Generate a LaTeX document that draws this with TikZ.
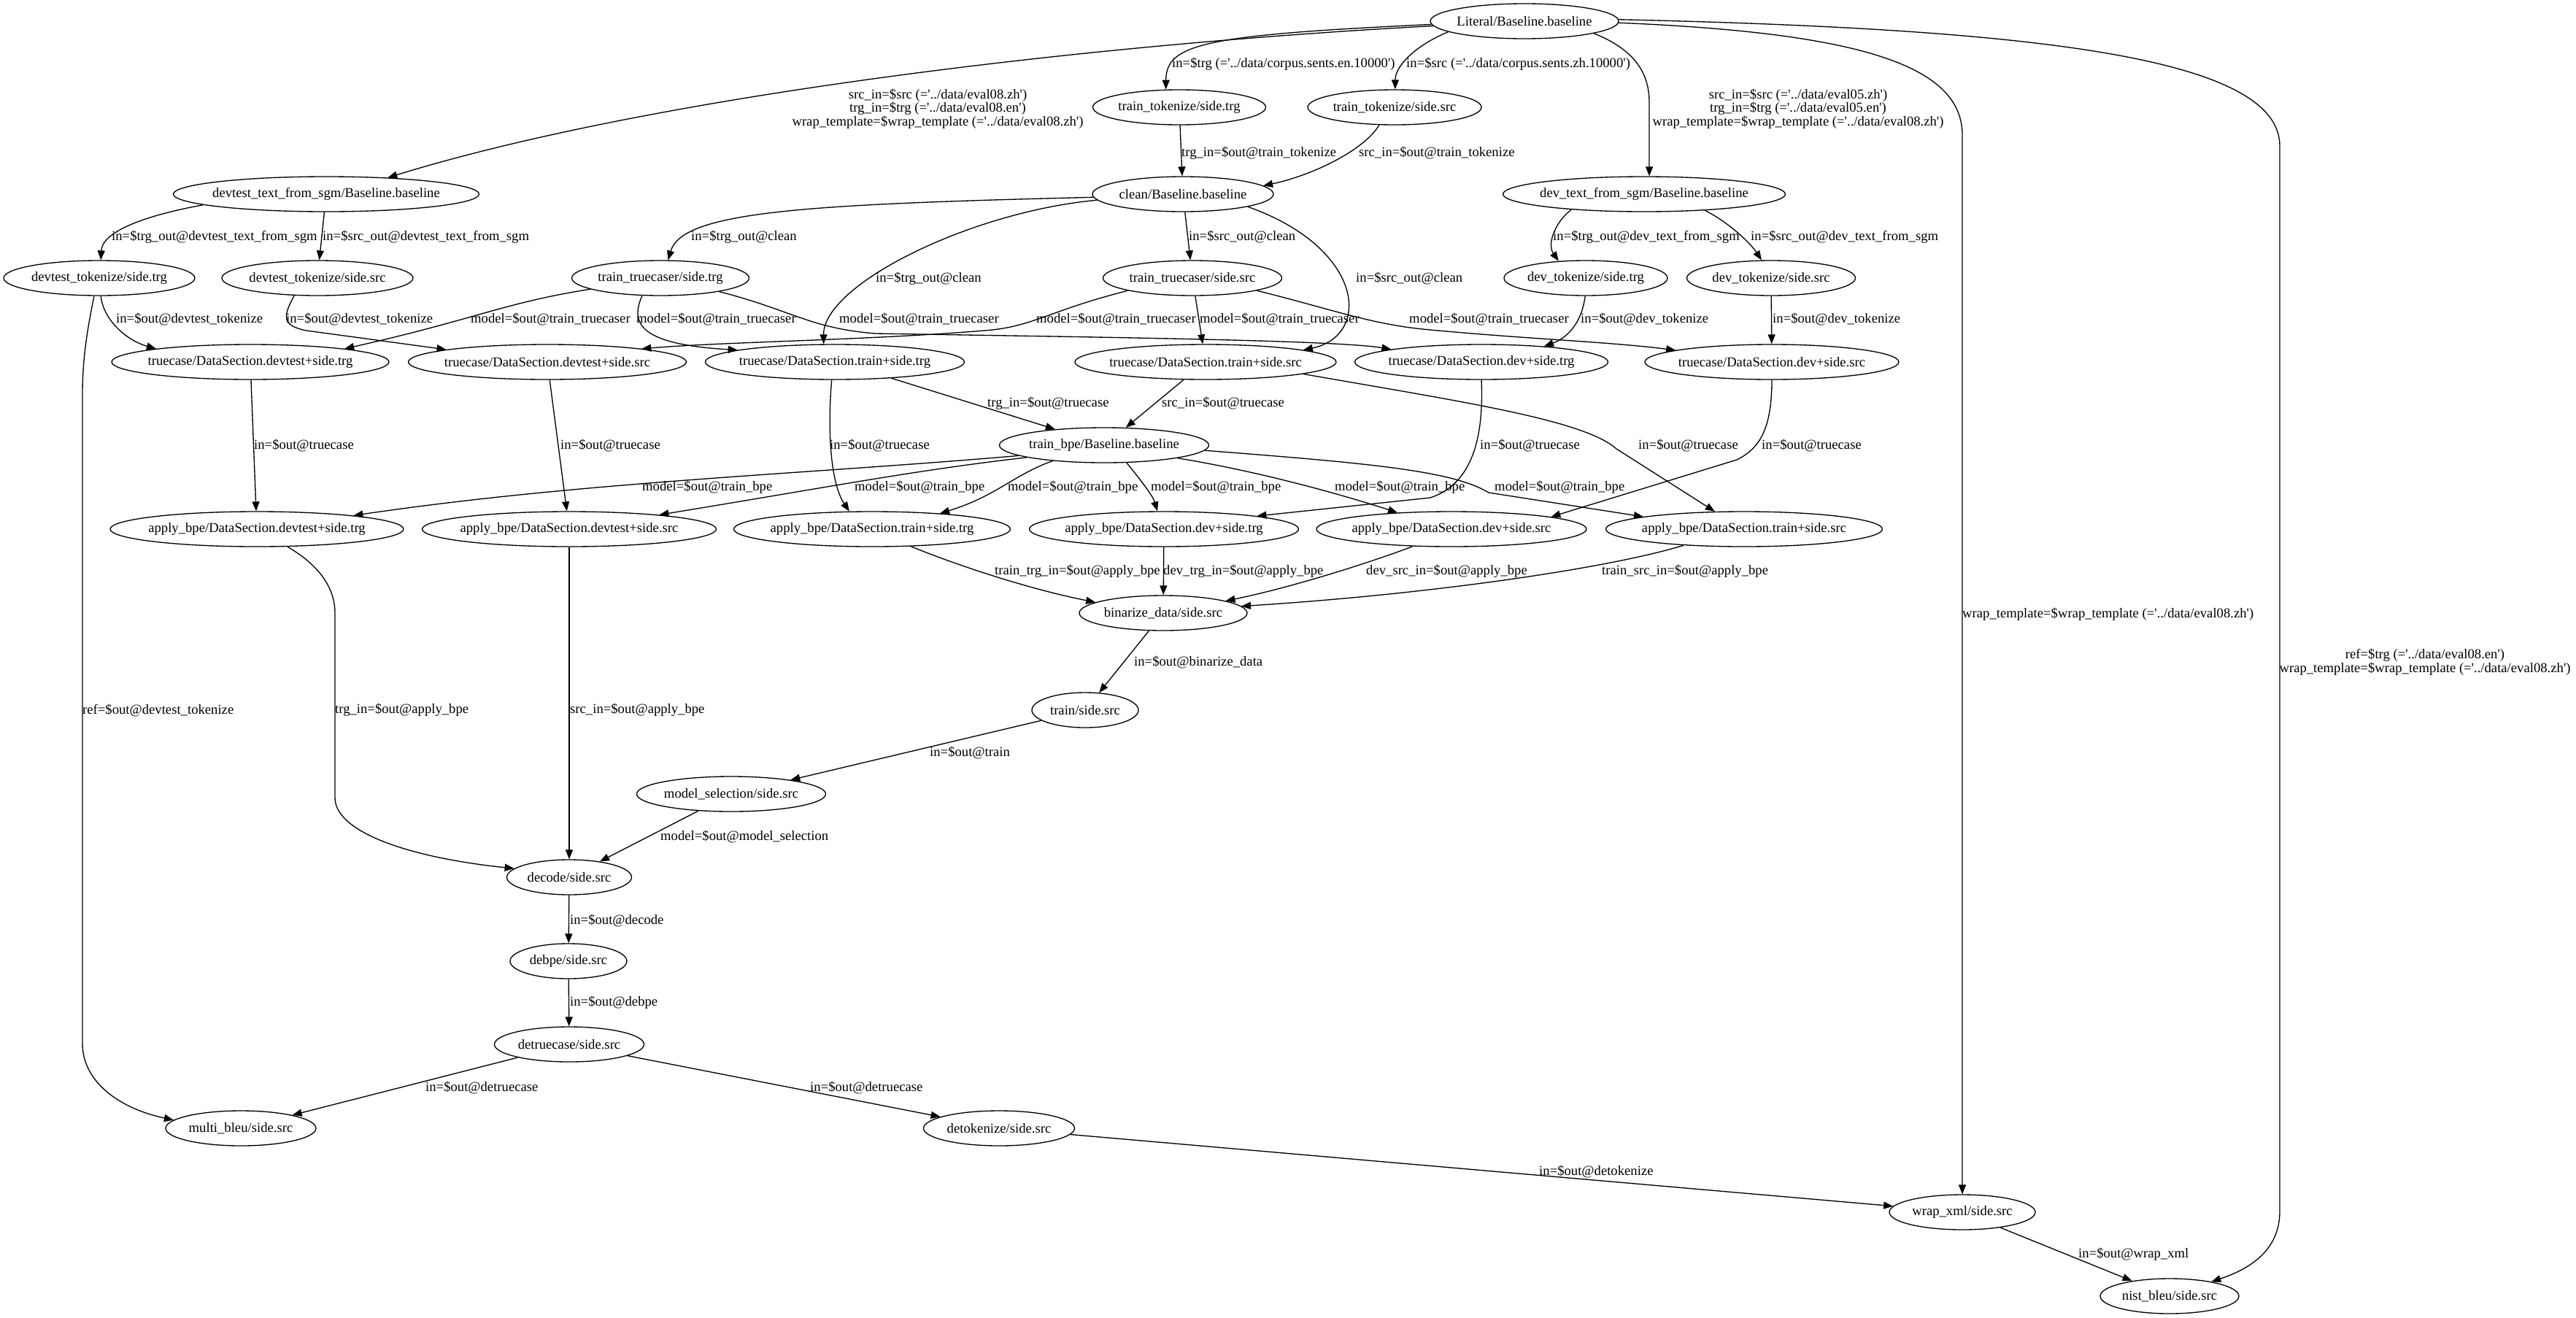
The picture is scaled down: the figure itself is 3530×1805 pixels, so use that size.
\documentclass[tikz,border=0pt]{standalone}
\usepackage{fontspec}
\setmainfont{Liberation Serif}
\usetikzlibrary{shapes.geometric,arrows.meta}
\newcommand{\sq}{\textquotesingle}
\newcommand{\gfont}{\fontsize{18.67pt}{18.6pt}\selectfont}
\newcommand{\gn}[5]{\node[gnode, minimum width=#4pt] (#1) at (#2,#3) {\makebox[0pt]{#5}};}
\newcommand{\gl}[4]{\node[lbl] (#1) at (#2,#3) {#4};}
\begin{document}
\begin{tikzpicture}[x=1pt,y=-1pt,
  gnode/.style={ellipse, draw, line width=1.33pt, inner sep=0pt, minimum height=48pt, font=\gfont},
  gedge/.style={draw, line width=1.33pt, -{Triangle[length=13pt,width=10pt]}},
  lbl/.style={anchor=west, inner sep=0pt, font=\gfont},
  mlbl/.style={anchor=center, inner sep=0pt, align=center, font=\gfont}]
\useasboundingbox[fill=white] (0,0) rectangle (3530,1805);
% nodes
\gn{L}{2089}{29}{258}{Literal/Baseline.baseline}
\gn{TTt}{1616}{147}{237}{train\_tokenize/side.trg}
\gn{TTs}{1911}{147}{238}{train\_tokenize/side.src}
\gn{DT}{447}{266}{419}{devtest\_text\_from\_sgm/Baseline.baseline}
\gn{CL}{1621}{266}{248}{clean/Baseline.baseline}
\gn{DV}{2253}{266}{387}{dev\_text\_from\_sgm/Baseline.baseline}
\gn{DTt}{136}{381}{262}{devtest\_tokenize/side.trg}
\gn{DTs}{435}{381}{262}{devtest\_tokenize/side.src}
\gn{TRt}{905}{381}{243}{train\_truecaser/side.trg}
\gn{TRs}{1634}{381}{245}{train\_truecaser/side.src}
\gn{DVt}{2173}{381}{224}{dev\_tokenize/side.trg}
\gn{DVs}{2427}{381}{231}{dev\_tokenize/side.src}
\gn{TCdt}{343}{496}{380}{truecase/DataSection.devtest+side.trg}
\gn{TCds}{750}{496}{381}{truecase/DataSection.devtest+side.src}
\gn{TCtt}{1144}{496}{355}{truecase/DataSection.train+side.trg}
\gn{TCts}{1652}{496}{358}{truecase/DataSection.train+side.src}
\gn{TCvt}{2030}{496}{347}{truecase/DataSection.dev+side.trg}
\gn{TCvs}{2428}{496}{348}{truecase/DataSection.dev+side.src}
\gn{TB}{1513}{610}{287}{train\_bpe/Baseline.baseline}
\gn{ABdt}{352}{725}{402}{apply\_bpe/DataSection.devtest+side.trg}
\gn{ABds}{780}{725}{403}{apply\_bpe/DataSection.devtest+side.src}
\gn{ABtt}{1195}{725}{379}{apply\_bpe/DataSection.train+side.trg}
\gn{ABvt}{1595}{725}{369}{apply\_bpe/DataSection.dev+side.trg}
\gn{ABvs}{1989}{725}{370}{apply\_bpe/DataSection.dev+side.src}
\gn{ABts}{2390}{725}{379}{apply\_bpe/DataSection.train+side.src}
\gn{BD}{1594}{840}{230}{binarize\_data/side.src}
\gn{TS}{1487}{973}{146}{train/side.src}
\gn{MS}{1002}{1088}{259}{model\_selection/side.src}
\gn{DC}{780}{1202}{171}{decode/side.src}
\gn{DB}{779}{1317}{160}{debpe/side.src}
\gn{DR}{780}{1431}{205}{detruecase/side.src}
\gn{MB}{330}{1546}{206}{multi\_bleu/side.src}
\gn{DK}{1369}{1546}{207}{detokenize/side.src}
\gn{WX}{2689}{1661}{200}{wrap\_xml/side.src}
\gn{NB}{2973}{1776}{190}{nist\_bleu/side.src}
% edges from Literal
\draw[gedge] (L.183) .. controls (1500,60) and (900,130) .. (DT.15);
\draw[gedge] (L.182) .. controls (1650,48) and (1598,60) .. (TTt.127);
\draw[gedge] (L.188) .. controls (1940,62) and (1912,90) .. (TTs.88);
\draw[gedge] (L.350) .. controls (2240,68) and (2260,100) .. (2260,140) -- (DV.74);
\draw[gedge] (L.359) .. controls (2550,45) and (2689,90) .. (2689,185) -- (WX.north);
\draw[gedge] (L.1) .. controls (2800,40) and (3124,80) .. (3124,200) -- (3124,1660) .. controls (3124,1712) and (3085,1738) .. (NB.19);
% devtest text
\draw[gedge] (DT.185) .. controls (195,296) and (140,318) .. (DTt.85);
\draw[gedge] (DT) -- (DTs);
\draw[gedge] (DTt.275) .. controls (142,440) and (175,467) .. (TCdt.172);
\draw[gedge] (DTt.254) .. controls (120,450) and (113,490) .. (113,540) -- (113,1430) .. controls (113,1480) and (160,1518) .. (MB.173);
\draw[gedge] (DTs.217) .. controls (388,433) and (385,446) .. (420,453) -- (TCds.173);
% train truecaser
\draw[gedge] (TRt.189) .. controls (690,415) and (650,438) .. (TCdt.8);
\draw[gedge] (TRt.224) .. controls (862,445) and (880,472) .. (TCtt.173);
\draw[gedge] (TRt.347) .. controls (1085,425) and (1110,450) .. (1200,457) .. controls (1500,462) and (1830,466) .. (TCvt.172);
\draw[gedge] (TRs.191) .. controls (1440,425) and (1420,445) .. (1360,452) .. controls (1200,466) and (1000,468) .. (TCds.8);
\draw[gedge] (TRs) -- (TCts);
\draw[gedge] (TRs.349) .. controls (1830,425) and (1880,445) .. (1960,452) .. controls (2100,465) and (2200,468) .. (TCvs.173);
% clean
\draw[gedge] (CL.182) .. controls (1100,280) and (935,290) .. (TRt.67);
\draw[gedge] (CL.184) .. controls (1330,290) and (1128,390) .. (TCtt.122);
\draw[gedge] (CL) -- (TRs);
\draw[gedge] (CL.349) .. controls (1870,340) and (1880,460) .. (TCts.7);
\draw[gedge] (TTt) -- (CL);
\draw[gedge] (TTs.229) .. controls (1870,205) and (1800,240) .. (CL.6);
% dev
\draw[gedge] (DV.192) .. controls (2130,305) and (2120,335) .. (DVt.148);
\draw[gedge] (DV.345) .. controls (2370,305) and (2400,335) .. (DVs.118);
\draw[gedge] (DVt.268) .. controls (2168,440) and (2150,462) .. (TCvt.14);
\draw[gedge] (DVs) -- (TCvs);
% truecase -> bpe
\draw[gedge] (TCtt.344) -- (TB.162);
\draw[gedge] (TCts.219) -- (TB.39);
\draw[gedge] (TCdt) -- (ABdt);
\draw[gedge] (TCds) -- (ABds);
\draw[gedge] (TCtt.260) .. controls (1133,600) and (1140,665) .. (ABtt.142);
\draw[gedge] (TCvt.270) .. controls (2034,610) and (2012,665) .. (1960,682) -- (ABvt.8);
\draw[gedge] (TCts.353) .. controls (2000,550) and (2170,575) .. (2215,615) -- (ABts.149);
\draw[gedge] (TCvs.270) .. controls (2428,590) and (2410,615) .. (2380,630) -- (ABvs.7);
% train_bpe -> apply_bpe
\draw[gedge] (TB.187) .. controls (1100,650) and (800,660) .. (ABdt.8);
\draw[gedge] (TB.189) .. controls (1250,645) and (1150,665) .. (ABds.9);
\draw[gedge] (TB.197) .. controls (1390,650) and (1365,680) .. (ABtt.13);
\draw[gedge] (TB.322) .. controls (1565,660) and (1580,680) .. (ABvt.110);
\draw[gedge] (TB.350) .. controls (1720,645) and (1830,675) .. (ABvs.163);
\draw[gedge] (TB.357) .. controls (1880,635) and (1990,645) .. (2040,675) -- (ABts.173);
% apply_bpe -> binarize
\draw[gedge] (ABtt.336) .. controls (1300,770) and (1400,805) .. (BD.171);
\draw[gedge] (ABvt) -- (BD);
\draw[gedge] (ABvs.204) .. controls (1880,770) and (1770,805) .. (BD.11);
\draw[gedge] (ABts.195) .. controls (2200,780) and (1950,815) .. (BD.5);
% lower chain
\draw[gedge] (BD) -- (TS);
\draw[gedge] (TS) -- (MS);
\draw[gedge] (MS) -- (DC);
\draw[gedge] (ABdt.330) .. controls (430,770) and (459,800) .. (459,840) -- (459,1093) .. controls (459,1140) and (560,1175) .. (DC.171);
\draw[gedge] (ABds) -- (DC);
\draw[gedge] (DC) -- (DB);
\draw[gedge] (DB) -- (DR);
\draw[gedge] (DR) -- (MB);
\draw[gedge] (DR) -- (DK);
\draw[gedge] (DK) -- (WX);
\draw[gedge] (WX) -- (NB);
% labels
\node[mlbl] (la1) at (1285,149) {src\_in=\$src (=\sq../data/eval08.zh\sq)\\trg\_in=\$trg (=\sq../data/eval08.en\sq)\\wrap\_template=\$wrap\_template (=\sq../data/eval08.zh\sq)};
\gl{la2}{1606}{88}{in=\$trg (=\sq../data/corpus.sents.en.10000\sq)}
\gl{la3}{1927}{88}{in=\$src (=\sq../data/corpus.sents.zh.10000\sq)}
\node[mlbl] (la4) at (2464,149) {src\_in=\$src (=\sq../data/eval05.zh\sq)\\trg\_in=\$trg (=\sq../data/eval05.en\sq)\\wrap\_template=\$wrap\_template (=\sq../data/eval08.zh\sq)};
\gl{la5}{2689}{842}{wrap\_template=\$wrap\_template (=\sq../data/eval08.zh\sq)}
\node[mlbl] (la6) at (3323,907) {ref=\$trg (=\sq../data/eval08.en\sq)\\wrap\_template=\$wrap\_template (=\sq../data/eval08.zh\sq)};
\gl{la7}{153}{325}{in=\$trg\_out@devtest\_text\_from\_sgm}
\gl{la8}{442}{325}{in=\$src\_out@devtest\_text\_from\_sgm}
\gl{la9}{159}{438}{in=\$out@devtest\_tokenize}
\gl{la10}{113}{973}{ref=\$out@devtest\_tokenize}
\gl{la11}{392}{438}{in=\$out@devtest\_tokenize}
\gl{la12}{645}{438}{model=\$out@train\_truecaser}
\gl{la13}{872}{438}{model=\$out@train\_truecaser}
\gl{la14}{1150}{438}{model=\$out@train\_truecaser}
\gl{la15}{1420}{438}{model=\$out@train\_truecaser}
\gl{la16}{1644}{438}{model=\$out@train\_truecaser}
\gl{la17}{1931}{438}{model=\$out@train\_truecaser}
\gl{la18}{947}{325}{in=\$trg\_out@clean}
\gl{la19}{1200}{382}{in=\$trg\_out@clean}
\gl{la20}{1629}{325}{in=\$src\_out@clean}
\gl{la21}{1858}{382}{in=\$src\_out@clean}
\gl{la22}{1619}{210}{trg\_in=\$out@train\_tokenize}
\gl{la23}{1862}{210}{src\_in=\$out@train\_tokenize}
\gl{la24}{2128}{325}{in=\$trg\_out@dev\_text\_from\_sgm}
\gl{la25}{2399}{325}{in=\$src\_out@dev\_text\_from\_sgm}
\gl{la26}{2166}{438}{in=\$out@dev\_tokenize}
\gl{la27}{2429}{438}{in=\$out@dev\_tokenize}
\gl{la28}{1353}{553}{trg\_in=\$out@truecase}
\gl{la29}{1592}{553}{src\_in=\$out@truecase}
\gl{la30}{348}{611}{in=\$out@truecase}
\gl{la31}{768}{611}{in=\$out@truecase}
\gl{la32}{1137}{611}{in=\$out@truecase}
\gl{la33}{2028}{611}{in=\$out@truecase}
\gl{la34}{2245}{611}{in=\$out@truecase}
\gl{la35}{2414}{611}{in=\$out@truecase}
\gl{la36}{880}{668}{model=\$out@train\_bpe}
\gl{la37}{1171}{668}{model=\$out@train\_bpe}
\gl{la38}{1381}{668}{model=\$out@train\_bpe}
\gl{la39}{1577}{668}{model=\$out@train\_bpe}
\gl{la40}{1829}{668}{model=\$out@train\_bpe}
\gl{la41}{2048}{668}{model=\$out@train\_bpe}
\gl{la42}{1363}{783}{train\_trg\_in=\$out@apply\_bpe}
\gl{la43}{1594}{783}{dev\_trg\_in=\$out@apply\_bpe}
\gl{la44}{1872}{783}{dev\_src\_in=\$out@apply\_bpe}
\gl{la45}{2195}{783}{train\_src\_in=\$out@apply\_bpe}
\gl{la46}{1554}{907}{in=\$out@binarize\_data}
\gl{la47}{1274}{1031}{in=\$out@train}
\gl{la48}{905}{1146}{model=\$out@model\_selection}
\gl{la49}{459}{973}{trg\_in=\$out@apply\_bpe}
\gl{la50}{781}{973}{src\_in=\$out@apply\_bpe}
\gl{la51}{781}{1261}{in=\$out@decode}
\gl{la52}{781}{1374}{in=\$out@debpe}
\gl{la53}{583}{1490}{in=\$out@detruecase}
\gl{la54}{1110}{1490}{in=\$out@detruecase}
\gl{la55}{2109}{1605}{in=\$out@detokenize}
\gl{la56}{2848}{1719}{in=\$out@wrap\_xml}
\end{tikzpicture}
\end{document}
